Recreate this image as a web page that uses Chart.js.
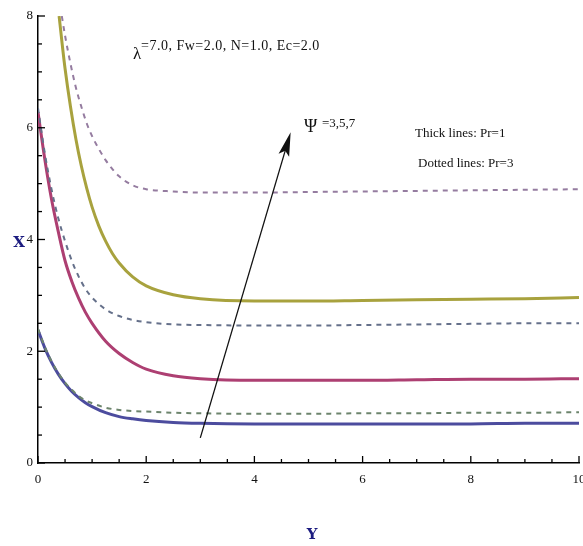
<!DOCTYPE html>
<html>
<head>
<meta charset="utf-8">
<script src="https://cdn.jsdelivr.net/npm/chart.js@4.4.1/dist/chart.umd.min.js"></script>
<style>
    html, body { margin: 0; padding: 0; background: #fff; }
</style>
</head>
<body>
<canvas id="chart" width="583" height="546"></canvas>
<script>
// Y positions shared by the curves that start at the wall
const yGrid = [0, 0.125, 0.25, 0.375, 0.5, 0.625, 0.75, 0.875, 1, 1.25, 1.5, 1.75, 2, 2.5, 3, 4, 5, 6, 7, 8, 9, 10];

// Thick lines: Pr = 1
const psi3Pr1 = [2.38, 2.06, 1.80, 1.59, 1.42, 1.28, 1.17, 1.08, 1.01, 0.90, 0.83, 0.79, 0.76, 0.725, 0.71, 0.70, 0.70, 0.70, 0.70, 0.70, 0.71, 0.71];
const psi5Pr1 = [6.28, 5.44, 4.72, 4.14, 3.62, 3.25, 2.95, 2.70, 2.50, 2.18, 1.96, 1.80, 1.68, 1.56, 1.51, 1.48, 1.48, 1.48, 1.49, 1.50, 1.50, 1.51];
const psi7Pr1Y = [0.39, 0.45, 0.5, 0.6, 0.7, 0.8, 0.9, 1.0, 1.125, 1.25, 1.375, 1.5, 1.75, 2, 2.5, 3, 4, 5, 6, 7, 8, 9, 10];
const psi7Pr1 = [8.0, 7.47, 7.06, 6.38, 5.80, 5.32, 4.92, 4.58, 4.24, 3.97, 3.75, 3.58, 3.33, 3.17, 3.01, 2.94, 2.90, 2.90, 2.91, 2.92, 2.93, 2.94, 2.96];

// Dotted lines: Pr = 3
const psi3Pr3 = [2.40, 2.08, 1.82, 1.61, 1.44, 1.31, 1.20, 1.12, 1.07, 0.99, 0.95, 0.93, 0.92, 0.90, 0.89, 0.88, 0.88, 0.89, 0.89, 0.90, 0.90, 0.91];
const psi5Pr3 = [6.35, 5.55, 4.90, 4.38, 3.97, 3.62, 3.34, 3.12, 2.96, 2.75, 2.63, 2.56, 2.52, 2.48, 2.47, 2.46, 2.46, 2.47, 2.48, 2.49, 2.50, 2.50];
const psi7Pr3Y = [0.44, 0.5, 0.6, 0.7, 0.8, 0.9, 1.0, 1.125, 1.25, 1.375, 1.5, 1.75, 2, 2.5, 3, 4, 5, 6, 7, 8, 9, 10];
const psi7Pr3 = [8.0, 7.65, 7.15, 6.72, 6.38, 6.08, 5.85, 5.62, 5.42, 5.26, 5.13, 4.97, 4.90, 4.86, 4.84, 4.84, 4.85, 4.86, 4.87, 4.88, 4.89, 4.90];

// Arrow through the curves, in data units (Y, X)
const arrowFrom = [3.0, 0.45];
const arrowTo = [4.67, 5.92];

const toPoints = (xs, ys) => xs.map((x, i) => ({ x: x, y: ys[i] }));

const serif = '"Liberation Serif", "Times New Roman", serif';

const thick = (label, xs, ys, color) => ({
    label: label,
    data: toPoints(xs, ys),
    borderColor: color,
    borderWidth: 3,
    pointRadius: 0,
    cubicInterpolationMode: 'monotone',
    fill: false,
});

const dotted = (label, xs, ys, color) => ({
    label: label,
    data: toPoints(xs, ys),
    borderColor: color,
    borderWidth: 2,
    borderDash: [5, 5],
    pointRadius: 0,
    cubicInterpolationMode: 'monotone',
    fill: false,
});

// ticks pointing into the plot, arrow and free text
const decorations = {
    id: 'decorations',
    afterDatasetsDraw(chart) {
        const { ctx, scales: { x, y }, chartArea } = chart;
        ctx.save();

        // inward tick marks
        ctx.strokeStyle = '#000';
        ctx.lineWidth = 1.3;
        x.ticks.forEach((t) => {
            const px = x.getPixelForValue(t.value);
            const len = t.value % 2 === 0 ? 7 : 4;
            ctx.beginPath();
            ctx.moveTo(px, chartArea.bottom);
            ctx.lineTo(px, chartArea.bottom - len);
            ctx.stroke();
        });
        y.ticks.forEach((t) => {
            const py = y.getPixelForValue(t.value);
            const len = t.value % 2 === 0 ? 7 : 4;
            ctx.beginPath();
            ctx.moveTo(chartArea.left, py);
            ctx.lineTo(chartArea.left + len, py);
            ctx.stroke();
        });

        // arrow
        const x0 = x.getPixelForValue(arrowFrom[0]);
        const y0 = y.getPixelForValue(arrowFrom[1]);
        const x1 = x.getPixelForValue(arrowTo[0]);
        const y1 = y.getPixelForValue(arrowTo[1]);
        const ang = Math.atan2(y1 - y0, x1 - x0);
        const headLen = 24;
        const headW = 5.5;
        ctx.strokeStyle = '#111';
        ctx.lineWidth = 1.3;
        ctx.beginPath();
        ctx.moveTo(x0, y0);
        ctx.lineTo(x1 - Math.cos(ang) * 10, y1 - Math.sin(ang) * 10);
        ctx.stroke();
        ctx.fillStyle = '#111';
        ctx.beginPath();
        ctx.moveTo(x1, y1);
        ctx.lineTo(x1 - Math.cos(ang) * headLen - Math.sin(ang) * headW, y1 - Math.sin(ang) * headLen + Math.cos(ang) * headW);
        ctx.lineTo(x1 - Math.cos(ang) * headLen * 0.8, y1 - Math.sin(ang) * headLen * 0.8);
        ctx.lineTo(x1 - Math.cos(ang) * headLen + Math.sin(ang) * headW, y1 - Math.sin(ang) * headLen - Math.cos(ang) * headW);
        ctx.closePath();
        ctx.fill();

        // annotations
        ctx.fillStyle = '#111';
        ctx.textBaseline = 'middle';
        ctx.textAlign = 'left';
        ctx.font = '17px ' + serif;
        ctx.fillText('λ', 133, 55);
        ctx.font = '14px ' + serif;
        ctx.letterSpacing = '0.5px';
        ctx.fillText('=7.0, Fw=2.0, N=1.0, Ec=2.0', 141, 46);
        ctx.letterSpacing = '0px';
        ctx.font = '18px ' + serif;
        ctx.fillText('Ψ', 304, 127);
        ctx.font = '13px ' + serif;
        ctx.fillText('=3,5,7', 322, 124);
        ctx.fillText('Thick lines: Pr=1', 415, 134);
        ctx.fillText('Dotted lines: Pr=3', 418, 164);

        // axis names
        ctx.fillStyle = '#1c1c80';
        ctx.font = 'bold 15px "DejaVu Serif", serif';
        ctx.textAlign = 'center';
        ctx.fillText('X', 19, 243);
        ctx.fillText('Y', 312, 535);

        ctx.restore();
    },
};

const ctx = document.getElementById('chart').getContext('2d');

new Chart(ctx, {
    type: 'line',
    data: {
        datasets: [
            dotted('Ψ=7, Pr=3', psi7Pr3Y, psi7Pr3, '#957ca0'),
            dotted('Ψ=5, Pr=3', yGrid, psi5Pr3, '#65708a'),
            dotted('Ψ=3, Pr=3', yGrid, psi3Pr3, '#6c846c'),
            thick('Ψ=7, Pr=1', psi7Pr1Y, psi7Pr1, '#a8a23e'),
            thick('Ψ=5, Pr=1', yGrid, psi5Pr1, '#ad3f72'),
            thick('Ψ=3, Pr=1', yGrid, psi3Pr1, '#4c4c9e'),
        ],
    },
    options: {
        responsive: false,
        animation: false,
        layout: {
            padding: { top: 16, right: 4, left: 0, bottom: 0 },
        },
        plugins: {
            legend: { display: false },
            tooltip: { enabled: false },
        },
        scales: {
            x: {
                type: 'linear',
                min: 0,
                max: 10,
                grid: { display: false, drawTicks: false },
                border: { display: true, color: '#000', width: 1.5 },
                ticks: {
                    stepSize: 0.5,
                    autoSkip: false,
                    maxRotation: 0,
                    padding: 9,
                    color: '#111',
                    font: { family: serif, size: 13 },
                    callback: (v) => (v % 2 === 0 ? String(v) : ''),
                },
                afterFit: (scale) => {
                    scale.height = 83;
                    scale.paddingLeft = 0;
                    scale.paddingRight = 0;
                },
            },
            y: {
                min: 0,
                max: 8,
                grid: { display: false, drawTicks: false },
                border: { display: true, color: '#000', width: 1.5 },
                ticks: {
                    stepSize: 0.5,
                    autoSkip: false,
                    padding: 5,
                    color: '#111',
                    font: { family: serif, size: 13 },
                    callback: (v) => (v % 2 === 0 ? String(v) : ''),
                },
                afterFit: (scale) => {
                    scale.width = 38;
                    scale.paddingTop = 0;
                    scale.paddingBottom = 0;
                },
            },
        },
    },
    plugins: [decorations],
});
</script>
</body>
</html>
